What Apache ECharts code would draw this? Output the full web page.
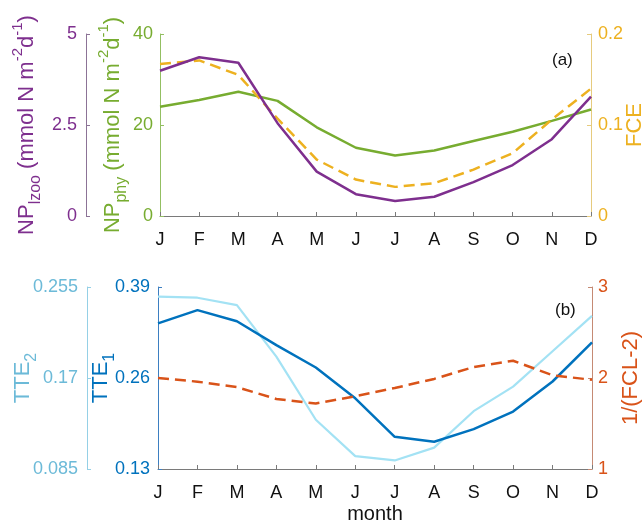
<!DOCTYPE html>
<html>
<head>
<meta charset="utf-8">
<script src="https://cdn.jsdelivr.net/npm/echarts@6/dist/echarts.min.js"></script>
<style>
  html, body { margin: 0; padding: 0; background: #fff; }
  #chart { width: 644px; height: 524px; }
</style>
</head>
<body>
<div id="chart"></div>
<script>
// Monthly climatology, two stacked panels
const months = ['J', 'F', 'M', 'A', 'M', 'J', 'J', 'A', 'S', 'O', 'N', 'D'];

// (a) production terms and food-chain efficiency
const npLzoo = [3.99, 4.36, 4.21, 2.55, 1.22, 0.60, 0.41, 0.53, 0.93, 1.40, 2.11, 3.28];
const npPhy  = [24.0, 25.5, 27.3, 25.3, 19.5, 15.0, 13.3, 14.4, 16.5, 18.5, 20.9, 23.4];
const fce    = [0.167, 0.171, 0.155, 0.107, 0.062, 0.040, 0.032, 0.036, 0.051, 0.069, 0.106, 0.140];

// (b) trophic transfer efficiencies and food-chain length term
const tte1   = [0.338, 0.357, 0.341, 0.307, 0.275, 0.231, 0.176, 0.169, 0.187, 0.212, 0.255, 0.311];
const tte2   = [0.246, 0.245, 0.238, 0.190, 0.131, 0.097, 0.093, 0.105, 0.139, 0.162, 0.195, 0.228];
const invFcl = [2.00, 1.96, 1.90, 1.77, 1.72, 1.80, 1.89, 1.99, 2.12, 2.19, 2.03, 1.98];

// axis ranges and tick steps
const lzooAxis = { min: 0, max: 5, step: 2.5 };
const phyAxis  = { min: 0, max: 40, step: 20 };
const fceAxis  = { min: 0, max: 0.2, step: 0.1 };
const tte1Axis = { min: 0.13, max: 0.39, step: 0.13 };
const tte2Axis = { min: 0.085, max: 0.255, step: 0.085 };
const fclAxis  = { min: 1, max: 3, step: 1 };

const C = {
  purple: '#7E2F8E', green: '#77AC30', yellow: '#EDB120',
  blue: '#0072BD', sky: '#A3E2F4', skyText: '#6CBAD8', red: '#D95319'
};
const FONT = 'Liberation Sans, Arial, Helvetica, sans-serif';

function fmt(v) { return String(+(+v).toFixed(3)); }

function richName(color) {
  return {
    b: { fontSize: 22, color: color, fontFamily: FONT, lineHeight: 34, verticalAlign: 'middle' },
    s: { fontSize: 16, color: color, fontFamily: FONT, lineHeight: 16, verticalAlign: 'bottom' },
    p: { fontSize: 15, color: color, fontFamily: FONT, lineHeight: 15, verticalAlign: 'top' }
  };
}

function yAxis(grid, range, opts) {
  return {
    type: 'value',
    gridIndex: grid,
    position: opts.position,
    offset: opts.offset || 0,
    min: range.min, max: range.max, interval: range.step,
    name: opts.name,
    nameLocation: 'middle',
    nameRotate: 90,
    nameGap: opts.nameGap,
    nameMoveOverlap: false,
    nameTextStyle: { color: opts.color, fontSize: 22, fontFamily: FONT, rich: richName(opts.color) },
    axisLine: { show: true, lineStyle: { color: opts.lineColor, width: 1 } },
    axisTick: { show: true, inside: true, length: 4, lineStyle: { color: opts.lineColor } },
    axisLabel: { color: opts.color, fontSize: 18, fontFamily: FONT, margin: opts.margin || 7, formatter: fmt },
    splitLine: { show: false }
  };
}

function xAxis(grid, extra) {
  return Object.assign({
    type: 'category',
    gridIndex: grid,
    data: months,
    boundaryGap: false,
    axisLine: { show: true, lineStyle: { color: '#7a7a7a', width: 1 } },
    axisTick: { show: true, inside: true, length: 4, lineStyle: { color: '#7a7a7a' } },
    axisLabel: { color: '#111', fontSize: 18, fontFamily: FONT, margin: 15, interval: 0 },
    splitLine: { show: false }
  }, extra || {});
}

function line(name, data, xi, yi, color, width, dashed) {
  return {
    name: name, type: 'line', data: data,
    xAxisIndex: xi, yAxisIndex: yi,
    symbol: 'none', smooth: false,
    lineStyle: { color: color, width: width, type: dashed ? [11, 6] : 'solid' },
    emphasis: { disabled: true }
  };
}

const option = {
  animation: false,
  backgroundColor: '#fff',
  grid: [
    { left: 160, right: 53, top: 34, height: 182, outerBoundsMode: 'none', containLabel: false },
    { left: 158, right: 52, top: 287, height: 182, outerBoundsMode: 'none', containLabel: false }
  ],
  xAxis: [
    xAxis(0),
    xAxis(1, {
      name: 'month', nameLocation: 'middle', nameGap: 35, nameMoveOverlap: false,
      nameTextStyle: { color: '#111', fontSize: 20, fontFamily: FONT }
    })
  ],
  yAxis: [
    // panel (a)
    yAxis(0, phyAxis, {
      position: 'left', color: C.green, lineColor: '#93BF62', nameGap: 30,
      name: '{b|NP}{s|phy}{b| (mmol N m}{p|-2}{b|d}{p|-1}{b|)}'
    }),
    yAxis(0, lzooAxis, {
      position: 'left', offset: 74, color: C.purple, lineColor: '#8C7396', nameGap: 42, margin: 9,
      name: '{b|NP}{s|lzoo}{b| (mmol N m}{p|-2}{b|d}{p|-1}{b|)}'
    }),
    yAxis(0, fceAxis, {
      position: 'right', color: C.yellow, lineColor: '#E6CB7E', nameGap: 33, margin: 7,
      name: 'FCE'
    }),
    // panel (b)
    yAxis(1, tte1Axis, {
      position: 'left', color: C.blue, lineColor: '#3D7FC1', nameGap: 40, margin: 8,
      name: '{b|TTE}{s|1}'
    }),
    yAxis(1, tte2Axis, {
      position: 'left', offset: 71, color: C.skyText, lineColor: '#95D0E6', nameGap: 47, margin: 9,
      name: '{b|TTE}{s|2}'
    }),
    yAxis(1, fclAxis, {
      position: 'right', color: C.red, lineColor: '#C58A74', nameGap: 28, margin: 6,
      name: '1/(FCL-2)'
    })
  ],
  series: [
    line('NP_phy', npPhy, 0, 0, C.green, 2.5, false),
    line('FCE', fce, 0, 2, C.yellow, 2.5, true),
    line('NP_lzoo', npLzoo, 0, 1, C.purple, 2.5, false),
    line('TTE2', tte2, 1, 4, C.sky, 2.2, false),
    line('TTE1', tte1, 1, 3, C.blue, 2.5, false),
    line('1/(FCL-2)', invFcl, 1, 5, C.red, 2.5, true)
  ],
  graphic: [
    { type: 'text', left: 552, top: 52, style: { text: '(a)', fontSize: 17, fontFamily: FONT, fill: '#111' } },
    { type: 'text', left: 555, top: 302, style: { text: '(b)', fontSize: 17, fontFamily: FONT, fill: '#111' } }
  ]
};

const chart = echarts.init(document.getElementById('chart'), null, { renderer: 'canvas' });
chart.setOption(option);
</script>
</body>
</html>
